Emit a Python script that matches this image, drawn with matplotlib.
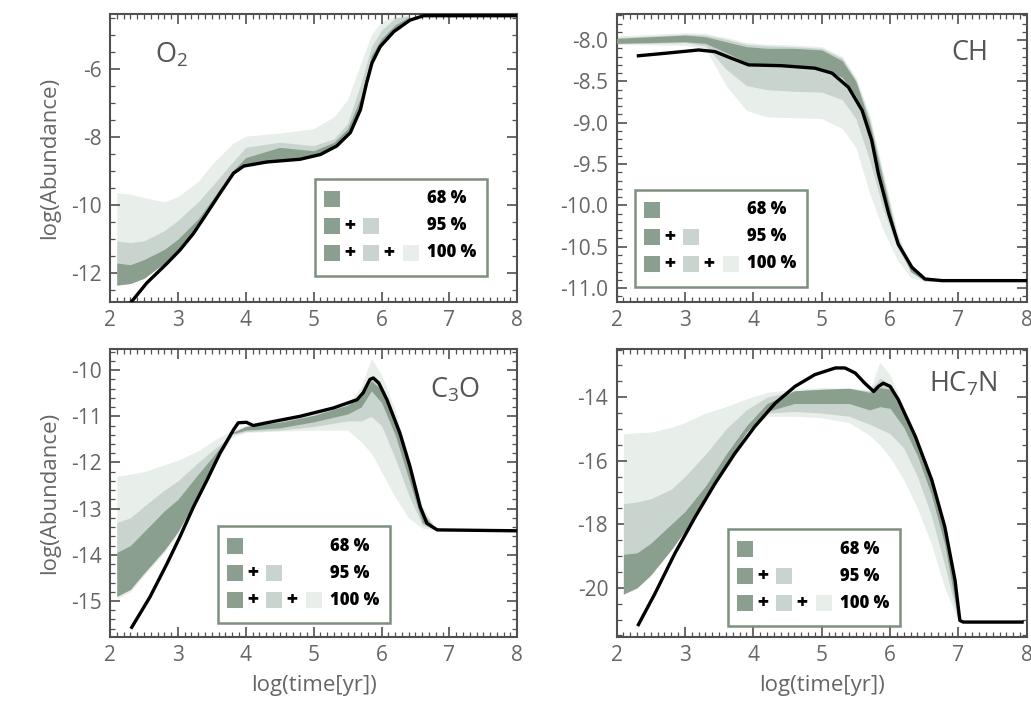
import matplotlib
matplotlib.use('Agg')
import matplotlib.pyplot as plt
from matplotlib.ticker import MultipleLocator, AutoMinorLocator, FormatStrFormatter
from matplotlib.patches import Rectangle

plt.rcParams['font.family'] = ['Open Sans', 'DejaVu Sans']
plt.rcParams['mathtext.fontset'] = 'custom'
plt.rcParams['mathtext.rm'] = 'Open Sans'
plt.rcParams['mathtext.it'] = 'Open Sans:italic'
plt.rcParams['axes.unicode_minus'] = False

# ---- O2 ----
o2_t_line = [2.32, 2.54, 2.84, 3.03, 3.23, 3.43, 3.62, 3.82, 3.97, 4.31, 4.80, 5.10, 5.34,
             5.54, 5.69, 5.78, 5.86, 5.98, 6.18, 6.42, 6.62, 8.0]
o2_line = [-12.83, -12.29, -11.71, -11.32, -10.83, -10.23, -9.65, -9.06, -8.85, -8.73, -8.65,
           -8.51, -8.26, -7.87, -7.19, -6.41, -5.82, -5.34, -4.90, -4.56, -4.43, -4.43]
o2_t = [2.1, 2.3, 2.5, 2.8, 3.0, 3.3, 3.5, 3.8, 4.0, 4.5, 5.0, 5.3, 5.5, 5.7, 5.85, 6.0, 6.2, 6.4]
o2_hi100 = [-9.63, -9.68, -9.78, -9.9, -9.75, -9.3, -8.8, -8.2, -7.97, -7.88, -7.75, -7.4,
            -6.9, -5.8, -5.0, -4.6, -4.45, -4.43]
o2_lo100 = [-12.35, -12.3, -12.15, -11.7, -11.3, -10.6, -10.0, -9.1, -8.83, -8.7, -8.55, -8.28,
            -7.93, -7.15, -5.85, -5.3, -4.88, -4.55]
o2_hi95 = [-11.05, -11.1, -11.05, -10.75, -10.45, -9.9, -9.45, -8.75, -8.3, -8.15, -8.25, -8.05,
           -7.6, -6.4, -5.35, -4.85, -4.5, -4.43]
o2_lo95 = [-12.35, -12.3, -12.15, -11.7, -11.3, -10.6, -10.0, -9.1, -8.83, -8.7, -8.55, -8.28,
           -7.93, -7.15, -5.85, -5.3, -4.88, -4.55]
o2_hi68 = [-11.7, -11.75, -11.6, -11.3, -11.0, -10.4, -9.85, -9.0, -8.6, -8.3, -8.4, -8.15,
           -7.75, -6.8, -5.6, -5.1, -4.7, -4.47]
o2_lo68 = [-12.35, -12.3, -12.15, -11.7, -11.3, -10.6, -10.0, -9.1, -8.83, -8.7, -8.55, -8.28,
           -7.93, -7.15, -5.85, -5.3, -4.88, -4.55]

# ---- CH ----
ch_t_line = [2.32, 2.71, 3.2, 3.44, 3.68, 3.93, 4.41, 4.9, 5.15, 5.39, 5.59, 5.73, 5.83, 5.98,
             6.12, 6.32, 6.51, 6.76, 7.98]
ch_line = [-8.19, -8.16, -8.12, -8.14, -8.22, -8.30, -8.31, -8.34, -8.40, -8.57, -8.85, -9.21,
           -9.62, -10.10, -10.47, -10.75, -10.89, -10.91, -10.91]
ch_t = [2.0, 2.5, 3.0, 3.3, 3.6, 3.9, 4.2, 4.6, 5.0, 5.3, 5.5, 5.7, 5.9, 6.1, 6.3, 6.5, 6.7]
ch_hi100 = [-7.95, -7.93, -7.91, -7.92, -7.97, -8.03, -8.05, -8.06, -8.08, -8.2, -8.45, -8.9,
            -9.6, -10.3, -10.75, -10.9, -10.92]
ch_lo100 = [-8.05, -8.06, -8.06, -8.1, -8.55, -8.85, -8.93, -8.94, -8.95, -9.07, -9.3, -9.85,
            -10.3, -10.65, -10.87, -10.92, -10.92]
ch_hi95 = [-7.97, -7.95, -7.93, -7.94, -7.99, -8.05, -8.07, -8.08, -8.1, -8.22, -8.48, -8.95,
           -9.65, -10.35, -10.78, -10.91, -10.92]
ch_lo95 = [-8.04, -8.04, -8.03, -8.07, -8.35, -8.55, -8.6, -8.62, -8.63, -8.72, -8.95, -9.45,
           -10.05, -10.5, -10.8, -10.91, -10.92]
ch_hi68 = [-7.98, -7.96, -7.94, -7.96, -8.02, -8.08, -8.1, -8.1, -8.12, -8.25, -8.5, -9.0,
           -9.7, -10.4, -10.8, -10.91, -10.92]
ch_lo68 = [-8.04, -8.03, -8.02, -8.04, -8.15, -8.27, -8.3, -8.32, -8.34, -8.45, -8.68, -9.1,
           -9.8, -10.42, -10.76, -10.9, -10.92]

# ---- C3O ----
c3o_t_line = [2.32, 2.59, 2.84, 3.03, 3.23, 3.43, 3.62, 3.82, 3.89, 4.01, 4.11, 4.31, 4.8,
              5.29, 5.64, 5.73, 5.83, 5.88, 5.96, 6.08, 6.27, 6.42, 6.57, 6.67, 6.82, 8.0]
c3o_line = [-15.57, -14.91, -14.19, -13.61, -12.96, -12.38, -11.8, -11.29, -11.14, -11.13,
            -11.2, -11.14, -11.0, -10.82, -10.64, -10.49, -10.2, -10.17, -10.28, -10.64,
            -11.36, -12.09, -12.96, -13.32, -13.46, -13.48]
c3o_t = [2.1, 2.3, 2.5, 2.8, 3.0, 3.3, 3.5, 3.8, 4.0, 4.5, 5.0, 5.5, 5.7, 5.85, 6.0, 6.2, 6.4,
         6.6, 6.8]
c3o_hi100 = [-12.3, -12.25, -12.2, -12.05, -11.95, -11.75, -11.55, -11.3, -11.2, -11.1, -10.95,
             -10.75, -10.35, -9.75, -10.1, -10.85, -11.9, -12.95, -13.42]
c3o_lo100 = [-14.95, -14.8, -14.45, -13.95, -13.55, -12.75, -12.15, -11.45, -11.35, -11.32,
             -11.3, -11.3, -11.55, -11.8, -12.2, -12.75, -13.2, -13.42, -13.46]
c3o_hi95 = [-13.3, -13.2, -12.95, -12.6, -12.4, -12.0, -11.75, -11.4, -11.22, -11.12, -10.97,
            -10.75, -10.55, -10.15, -10.38, -11.05, -11.98, -13.05, -13.43]
c3o_lo95 = [-14.9, -14.75, -14.4, -13.9, -13.5, -12.7, -12.12, -11.4, -11.33, -11.3, -11.22,
            -11.1, -11.1, -11.0, -11.2, -11.9, -12.7, -13.35, -13.46]
c3o_hi68 = [-13.95, -13.8, -13.5, -13.05, -12.8, -12.25, -11.9, -11.35, -11.22, -11.13, -10.98,
            -10.76, -10.58, -10.23, -10.43, -11.1, -12.02, -13.1, -13.44]
c3o_lo68 = [-14.9, -14.75, -14.4, -13.9, -13.5, -12.7, -12.1, -11.38, -11.3, -11.25, -11.12,
            -10.95, -10.8, -10.45, -10.7, -11.4, -12.35, -13.3, -13.46]

# ---- HC7N ----
hc7n_t_line = [2.32, 2.56, 2.85, 3.15, 3.44, 3.73, 4.02, 4.32, 4.61, 4.9, 5.2, 5.34, 5.49,
               5.63, 5.76, 5.83, 5.9, 6.0, 6.12, 6.37, 6.61, 6.8, 6.95, 7.02, 7.07, 7.93]
hc7n_line = [-21.16, -20.19, -18.93, -17.77, -16.72, -15.77, -14.93, -14.19, -13.66, -13.29,
             -13.08, -13.08, -13.24, -13.56, -13.82, -13.66, -13.56, -13.66, -14.08, -15.24,
             -16.61, -18.08, -19.77, -21.03, -21.08, -21.08]
hc7n_t = [2.1, 2.3, 2.5, 2.8, 3.0, 3.3, 3.6, 3.9, 4.2, 4.6, 5.0, 5.4, 5.7, 5.85, 6.0, 6.2, 6.4,
          6.6, 6.8, 7.0]
hc7n_hi100 = [-15.15, -15.12, -15.1, -14.95, -14.8, -14.5, -14.3, -14.05, -13.85, -13.75, -13.7,
              -13.72, -13.8, -12.9, -13.3, -14.3, -15.3, -16.5, -18.0, -20.7]
hc7n_lo100 = [-20.2, -20.0, -19.6, -18.8, -18.2, -17.15, -16.1, -15.15, -14.6, -14.6, -14.65,
              -14.8, -15.2, -15.5, -15.9, -16.6, -17.5, -18.6, -20.0, -21.05]
hc7n_hi95 = [-17.35, -17.3, -17.2, -16.9, -16.5, -15.8, -15.0, -14.4, -14.0, -13.8, -13.75,
             -13.72, -13.8, -13.4, -13.6, -14.45, -15.4, -16.55, -18.1, -20.75]
hc7n_lo95 = [-20.2, -20.0, -19.6, -18.8, -18.2, -17.15, -16.1, -15.1, -14.5, -14.45, -14.5,
             -14.6, -14.85, -15.0, -15.15, -15.6, -16.5, -17.7, -19.3, -21.05]
hc7n_hi68 = [-18.95, -18.9, -18.6, -18.0, -17.6, -16.8, -15.8, -14.9, -14.2, -13.8, -13.75,
             -13.72, -13.85, -13.7, -13.75, -14.55, -15.5, -16.65, -18.2, -20.8]
hc7n_lo68 = [-20.2, -20.0, -19.6, -18.8, -18.2, -17.15, -16.1, -15.1, -14.45, -14.2, -14.2,
             -14.2, -14.4, -14.3, -14.35, -14.95, -15.85, -17.05, -18.65, -21.05]

key_labels = ['68 %', '95 %', '100 %']

c68 = '#8b9f8e'
c95 = '#c9d4ce'
c100 = '#e8eeea'
frame_col = '#505050'
text_col = '#666666'


def draw_key(ax, x0, y0):
    # little boxed key: 68 / 68+95 / 68+95+100
    bb = ax.get_window_extent()
    W, H = bb.width, bb.height
    bw, bh = 172, 97
    ax.add_patch(Rectangle((x0, y0), bw / W, bh / H, transform=ax.transAxes,
                           facecolor='white', edgecolor='#7d907f', lw=1.8, zorder=6))
    cols = [c68, c95, c100]
    sq_x = [9, 48, 88]
    plus_x = [35, 74]
    rows = [77, 50, 23]
    for i, ry in enumerate(rows):
        for k in range(i + 1):
            ax.add_patch(Rectangle((x0 + sq_x[k] / W, y0 + (ry - 8) / H), 16 / W, 16 / H,
                                   transform=ax.transAxes, facecolor=cols[k],
                                   edgecolor='none', zorder=7))
            if k < i:
                ax.text(x0 + plus_x[k] / W, y0 + ry / H, '+', transform=ax.transAxes,
                        ha='center', va='center', fontsize=14, fontweight='heavy',
                        color='black', zorder=8)
        ax.text(x0 + 112 / W, y0 + ry / H, key_labels[i], transform=ax.transAxes,
                ha='left', va='center', fontsize=12, fontweight='heavy', color='black',
                zorder=8)


def panel(ax, t, lo100, hi100, lo95, hi95, lo68, hi68, t_line, line, ylim, major, nminor, fmt):
    ax.fill_between(t, lo100, hi100, color=c100, lw=0, zorder=1)
    ax.fill_between(t, lo95, hi95, color=c95, lw=0, zorder=2)
    ax.fill_between(t, lo68, hi68, color=c68, lw=0, zorder=3)
    ax.plot(t_line, line, color='black', lw=2.4, zorder=4)
    ax.set_xlim(2, 8)
    ax.set_ylim(*ylim)
    ax.xaxis.set_major_locator(MultipleLocator(1))
    ax.xaxis.set_minor_locator(AutoMinorLocator(10))
    ax.yaxis.set_major_locator(MultipleLocator(major))
    ax.yaxis.set_minor_locator(AutoMinorLocator(nminor))
    ax.yaxis.set_major_formatter(FormatStrFormatter(fmt))
    ax.tick_params(which='both', direction='in', top=True, right=True, color=frame_col,
                   labelcolor=text_col, labelsize=15)
    ax.tick_params(which='major', length=7, width=1.2, pad=6)
    ax.tick_params(which='minor', length=3.5, width=0.9)
    for s in ax.spines.values():
        s.set_color(frame_col)
        s.set_linewidth(1.5)


fig = plt.figure(figsize=(10.31, 7.01), dpi=100)
ax1 = fig.add_axes([0.1067, 0.569, 0.395, 0.411])
ax2 = fig.add_axes([0.598, 0.569, 0.398, 0.411])
ax3 = fig.add_axes([0.1067, 0.0913, 0.395, 0.411])
ax4 = fig.add_axes([0.598, 0.0913, 0.398, 0.411])

panel(ax1, o2_t, o2_lo100, o2_hi100, o2_lo95, o2_hi95, o2_lo68, o2_hi68,
      o2_t_line, o2_line, (-12.85, -4.38), 2, 4, '%d')
panel(ax2, ch_t, ch_lo100, ch_hi100, ch_lo95, ch_hi95, ch_lo68, ch_hi68,
      ch_t_line, ch_line, (-11.17, -7.685), 0.5, 5, '%.1f')
panel(ax3, c3o_t, c3o_lo100, c3o_hi100, c3o_lo95, c3o_hi95, c3o_lo68, c3o_hi68,
      c3o_t_line, c3o_line, (-15.78, -9.54), 1, 5, '%d')
panel(ax4, hc7n_t, hc7n_lo100, hc7n_hi100, hc7n_lo95, hc7n_hi95, hc7n_lo68, hc7n_hi68,
      hc7n_t_line, hc7n_line, (-21.55, -12.48), 2, 4, '%d')

# species names
ax1.text(0.11, 0.858, 'O$_2$', transform=ax1.transAxes, ha='left', va='center',
         fontsize=19.5, color='#555555')
ax2.text(0.905, 0.865, 'CH', transform=ax2.transAxes, ha='right', va='center',
         fontsize=19.5, color='#555555')
ax3.text(0.909, 0.858, 'C$_3$O', transform=ax3.transAxes, ha='right', va='center',
         fontsize=19.5, color='#555555')
ax4.text(0.93, 0.878, 'HC$_7$N', transform=ax4.transAxes, ha='right', va='center',
         fontsize=19.5, color='#555555')

draw_key(ax1, 0.504, 0.092)
draw_key(ax2, 0.044, 0.054)
draw_key(ax3, 0.265, 0.047)
draw_key(ax4, 0.271, 0.037)

for ax in (ax1, ax3):
    ax.set_ylabel('log(Abundance)', fontsize=16, color=text_col, labelpad=8)
for ax in (ax3, ax4):
    ax.set_xlabel('log(time[yr])', fontsize=16, color=text_col, labelpad=6)

fig.savefig('out.png', dpi=100)
